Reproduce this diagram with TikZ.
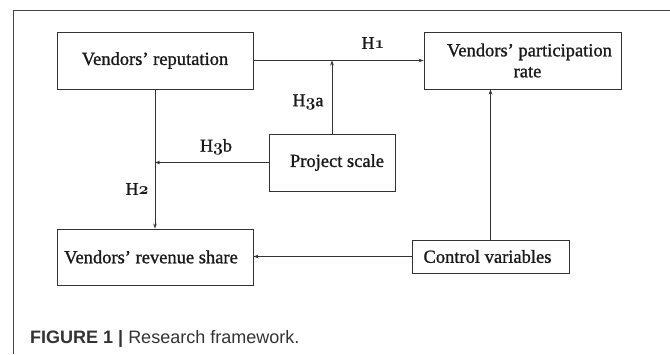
\documentclass[tikz,border=0pt]{standalone}
\usepackage{fontspec}
\setmainfont{Liberation Serif}
\newfontfamily\boxfont[FakeBold=1.1,Ligatures=TeX]{Liberation Serif}
\newfontfamily\capfont{Liberation Sans}
\usetikzlibrary{arrows.meta}
% old-style figures from the bold math italic font
\newcommand\osfig[1]{{\boldmath$\mathnormal{#1}$}}
\definecolor{linegray}{HTML}{333333}
\definecolor{framegray}{HTML}{444444}
\tikzset{
  varbox/.style={draw=linegray, line width=0.9pt, inner sep=0pt, align=center,
    font=\boxfont\fontsize{18.5}{21}\selectfont, text=black!90},
  link/.style={draw=linegray, line width=0.9pt,
    -{Stealth[length=5pt,width=3.6pt]}},
  hyp/.style={font=\boxfont\fontsize{18}{20}\selectfont, text=black!90},
}
\begin{document}
\begin{tikzpicture}[x=1pt,y=-1pt]
\useasboundingbox (0,0) rectangle (670,354);
% frame lines
\draw[framegray, line width=1pt] (13,354) -- (13,10) -- (670,10);

% variables
\node[varbox, minimum width=196pt, minimum height=57pt] (rep) at (155,60.5) {Vendors’ reputation};
\node[varbox, minimum width=197pt, minimum height=57pt] (part) at (522.5,60.5)
  {\hspace*{14pt}Vendors’ participation\\\hspace*{10pt}rate};
\node[varbox, minimum width=126pt, minimum height=57pt] (ps) at (332,162.5) {\hspace*{10pt}Project scale};
\node[varbox, minimum width=196pt, minimum height=56pt] (rev) at (155,257) {Vendors’ revenue share\hspace*{8pt}};
\node[varbox, minimum width=157pt, minimum height=33pt] (cv) at (490.5,256.5) {Control variables\hspace*{6pt}};

% hypotheses
\draw[link] (rep.east) -- (part.west);
\draw[link] (ps.north) -- (ps.north |- rep.east);
\draw[link] (ps.west) -- (rep.south |- ps.west);
\draw[link] (rep.south) -- (rev.north);
\draw[link] (cv.north) -- (cv.north |- part.south);
\draw[link] (cv.west) -- (rev.east |- cv.west);

\node[hyp] (h1) at (373,43) {H\osfig{1}};
\node[hyp] (h3a) at (308,102) {H\osfig{3}a};
\node[hyp] (h3b) at (216,147) {H\osfig{3}b};
\node[hyp] (h2) at (137,189) {H\osfig{2}};

% caption
\node[anchor=base west, inner sep=0pt, text=black!80, font=\capfont\fontsize{18}{20}\selectfont]
  (cap) at (30,343) {\textbf{FIGURE 1 |} Research framework.};
\end{tikzpicture}
\end{document}
